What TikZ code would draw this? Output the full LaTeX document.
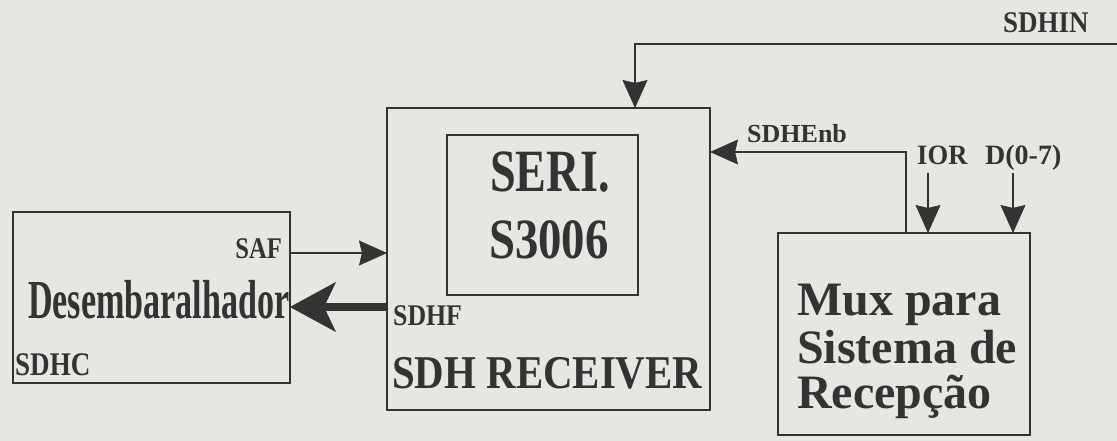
\documentclass[tikz,border=0pt]{standalone}
\usepackage{fontspec}
\setmainfont{Liberation Serif}
\usetikzlibrary{arrows.meta}
\definecolor{paper}{HTML}{E6E6E3}
\definecolor{ink}{HTML}{333333}
\newcommand{\sx}[2]{\scalebox{#1}[1]{#2}}
\begin{document}
\begin{tikzpicture}[x=1pt,y=-1pt,
  box/.style={draw=ink, line width=1.3pt, anchor=north west, inner sep=0pt, outer sep=0pt},
  lbl/.style={text=ink, inner sep=0pt, font=\bfseries},
  arr/.style={draw=ink, line width=1.1pt, -{Stealth[length=28pt,width=25pt,inset=3pt,line width=0.5pt]}},
  fatarr/.style={draw=ink, line width=8pt, -{Stealth[length=46pt,width=50pt,inset=12pt,line width=0.5pt]}}
]
\fill[paper] (0,0) rectangle (1117,441);
\useasboundingbox (0,0) rectangle (1117,441);

% boxes
\node[box, minimum width=277pt, minimum height=171pt] (des) at (13,212) {};
\node[box, minimum width=323pt, minimum height=302pt] (sdh) at (387,108) {};
\node[box, minimum width=191pt, minimum height=160pt] (seri) at (447,135) {};
\node[box, minimum width=252pt, minimum height=202pt] (mux) at (778,233) {};

% texts
\node[lbl, anchor=base west, font=\bfseries\fontsize{55}{55}\selectfont] (tdes) at (28,318) {\sx{0.62}{Desembaralhador}};
\node[lbl, anchor=base east, font=\bfseries\fontsize{30}{30}\selectfont] (tsaf) at (282,258) {\sx{0.82}{SAF}};
\node[lbl, anchor=base west, font=\bfseries\fontsize{33}{33}\selectfont] (tsdhc) at (15,375) {\sx{0.82}{SDHC}};
\node[lbl, anchor=base west, font=\bfseries\fontsize{30}{30}\selectfont] (tsdhf) at (393,325) {\sx{0.86}{SDHF}};
\node[lbl, anchor=base west, font=\bfseries\fontsize{47}{47}\selectfont] (trec) at (392,388) {\sx{0.87}{SDH RECEIVER}};
\node[lbl, anchor=base, font=\bfseries\fontsize{60}{60}\selectfont] (tseri) at (550,192) {\sx{0.77}{SERI.}};
\node[lbl, anchor=base, font=\bfseries\fontsize{57}{57}\selectfont] (ts3006) at (549,258) {\sx{0.82}{S3006}};
\node[lbl, anchor=base west, font=\bfseries\fontsize{26}{26}\selectfont] (tenb) at (747,143) {SDHEnb};
\node[lbl, anchor=base west, font=\bfseries\fontsize{28}{28}\selectfont] (tior) at (917,165) {\sx{0.95}{IOR}};
\node[lbl, anchor=base west, font=\bfseries\fontsize{28}{28}\selectfont] (td) at (985,165) {D(0-7)};
\node[lbl, anchor=base west, font=\bfseries\fontsize{30}{30}\selectfont] (tin) at (1003,33) {\sx{0.9}{SDHIN}};
\node[lbl, anchor=base west, font=\bfseries\fontsize{48}{48}\selectfont] (tmux1) at (797,315) {Mux para};
\node[lbl, anchor=base west, font=\bfseries\fontsize{48}{48}\selectfont] (tmux2) at (797,363) {Sistema de};
\node[lbl, anchor=base west, font=\bfseries\fontsize{48}{48}\selectfont] (tmux3) at (797,408) {Recepção};

% connector helper coordinates
\coordinate (safy) at (0,253);
\coordinate (sdhfy) at (0,307);
\coordinate (inR) at (1117,44);
\coordinate (inC) at (635,44);
\coordinate (enb) at (906,152);
\coordinate (ior) at (928,173);
\coordinate (dd) at (1013,173);

% connectors
\draw[arr] (des.east |- safy) -- (sdh.west |- safy);
\draw[fatarr] (sdh.west |- sdhfy) -- (des.east |- sdhfy);
\draw[arr] (inR) -- (inC) -- (inC |- sdh.north);
\draw[arr] (mux.north -| enb) |- (sdh.east |- enb);
\draw[arr] (ior) -- (ior |- mux.north);
\draw[arr] (dd) -- (dd |- mux.north);
\end{tikzpicture}
\end{document}
